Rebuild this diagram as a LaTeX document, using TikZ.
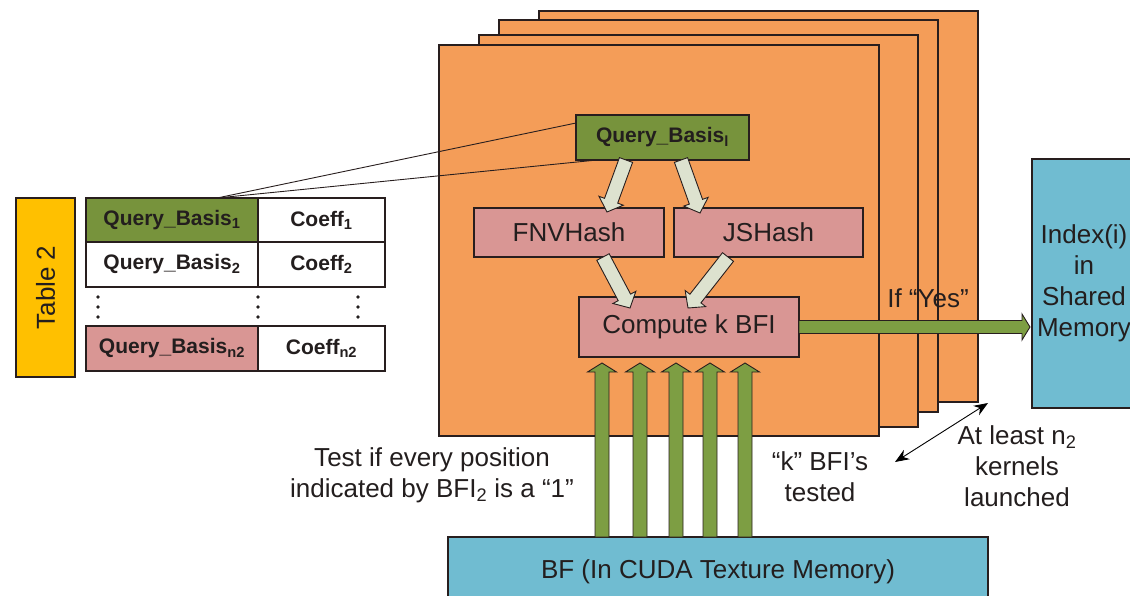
\documentclass[tikz,border=0pt]{standalone}
\usepackage{fontspec}
\setmainfont{Liberation Sans}
\usetikzlibrary{calc,arrows.meta}

\definecolor{kernelorange}{RGB}{244,157,88}
\definecolor{basisgreen}{RGB}{119,147,60}
\definecolor{hashpink}{RGB}{217,150,148}
\definecolor{memblue}{RGB}{112,188,209}
\definecolor{tableyellow}{RGB}{255,192,0}
\definecolor{flowgreen}{RGB}{125,158,67}
\definecolor{palearrow}{RGB}{221,226,207}
\definecolor{edge}{RGB}{40,30,30}
\definecolor{ink}{RGB}{35,30,30}

% block arrow: style, start, end, half shaft width, half head width, head length
\newcommand\blockarrow[6]{%
  \coordinate (ba-h) at ($(#3)!#6!(#2)$);
  \draw[#1] ($(#2)!#4!90:(#3)$) -- ($(ba-h)!#4!90:(#3)$) -- ($(ba-h)!#5!90:(#3)$)
    -- (#3) -- ($(ba-h)!#5!-90:(#3)$) -- ($(ba-h)!#4!-90:(#3)$) -- ($(#2)!#4!-90:(#3)$) -- cycle;
}

\begin{document}
\begin{tikzpicture}[x=1pt,y=-1pt,
  box/.style={draw=edge, line width=1.1pt, inner sep=0pt, outer sep=0pt, anchor=north west,
    text=ink, font=\fontsize{26}{31}\selectfont, align=center},
  kernel/.style={box, fill=kernelorange},
  cell/.style={box, fill=white, font=\bfseries\fontsize{21}{25}\selectfont},
  label/.style={text=ink, font=\fontsize{26}{31}\selectfont, align=center, inner sep=0pt},
  palearr/.style={fill=palearrow, draw=edge, line width=0.9pt, line join=miter},
  greenarr/.style={fill=flowgreen, draw=edge, line width=0.9pt, line join=miter},
  thinline/.style={draw=edge, line width=0.9pt}]
\useasboundingbox (0,0) rectangle (1130,595);

% stacked kernels, back to front
\node[kernel, minimum width=439pt, minimum height=391pt] (k4) at (539,11) {};
\node[kernel, minimum width=439pt, minimum height=392pt] (k3) at (499,20) {};
\node[kernel, minimum width=439pt, minimum height=392pt] (k2) at (479,35) {};
\node[kernel, minimum width=440pt, minimum height=391pt] (k1) at (439,45) {};

% memories
\node[box, fill=memblue, minimum width=118pt, minimum height=249pt] (idx) at (1032,159) {};
\node[label] (idxlbl) at ($(idx.west)+(52,0)$) {Index(i)\\in\\Shared\\Memory};
\node[box, fill=memblue, minimum width=540pt, minimum height=70pt] (bf) at (448,537)
  {BF (In CUDA Texture Memory)};

% table
\node[box, fill=tableyellow, minimum width=59pt, minimum height=179pt] (tab) at (16,198) {};
\node[label, rotate=90] at (tab.center) {Table 2};
\node[cell, fill=basisgreen, minimum width=172pt, minimum height=44pt] (qb1) at (86,198) {Query\_Basis\textsubscript{1}};
\node[cell, minimum width=127pt, minimum height=44pt] (cf1) at (258,198) {Coeff\textsubscript{1}};
\node[cell, minimum width=172pt, minimum height=45pt] (qb2) at (86,242) {Query\_Basis\textsubscript{2}};
\node[cell, minimum width=127pt, minimum height=45pt] (cf2) at (258,242) {Coeff\textsubscript{2}};
\node[cell, fill=hashpink, minimum width=172pt, minimum height=45pt] (qbn) at (86,326) {Query\_Basis\textsubscript{n2}};
\node[cell, minimum width=127pt, minimum height=45pt] (cfn) at (258,326) {Coeff\textsubscript{n2}};
\foreach \cx in {98,258,358}{
  \foreach \cy in {297,307,317}{
    \fill[ink] (\cx,\cy) circle (1.8);
  }
}

% kernel contents
\node[cell, fill=basisgreen, minimum width=173pt, minimum height=45pt] (qbl) at (576,115) {Query\_Basis\textsubscript{l}};
\node[box, fill=hashpink, minimum width=190pt, minimum height=49pt] (fnv) at (474,208) {FNVHash};
\node[box, fill=hashpink, minimum width=189pt, minimum height=49pt] (jsh) at (674,208) {JSHash};
\node[box, fill=hashpink, minimum width=220pt, minimum height=60pt] (cbfi) at (579,297) {Compute k BFI};

% table row feeding the kernel
\coordinate (qb1top) at ($(qb1.north west)+(131,0)$);
\draw[thinline] (qb1top) -- ($(qbl.north west)+(0,8)$);
\draw[thinline] (qb1top) -- ($(qbl.south west)+(21,0)$);

% hashing arrows
\coordinate (qa1s) at ($(qbl.south west)+(50,0)$);
\coordinate (qa1e) at ($(fnv.north west)+(133,4)$);
\coordinate (qa2s) at ($(qbl.south west)+(105,0)$);
\coordinate (qa2e) at ($(jsh.north west)+(26,5)$);
\coordinate (ha1s) at ($(fnv.south west)+(129,0)$);
\coordinate (ha1e) at ($(cbfi.north west)+(51,11)$);
\coordinate (ha2s) at ($(jsh.south west)+(54,0)$);
\coordinate (ha2e) at ($(cbfi.north west)+(109,11)$);
\blockarrow{palearr}{qa1s}{qa1e}{7pt}{13pt}{12pt}
\blockarrow{palearr}{qa2s}{qa2e}{7pt}{13pt}{12pt}
\blockarrow{palearr}{ha1s}{ha1e}{7pt}{13pt}{12pt}
\blockarrow{palearr}{ha2s}{ha2e}{7pt}{13pt}{12pt}

% bit positions read from the filter
\foreach \ax/\bx in {154/23, 192/61, 228/97, 262/131, 297/166}{
  \coordinate (bs) at ($(bf.north west)+(\ax,0)$);
  \coordinate (be) at ($(cbfi.south west)+(\bx,6)$);
  \blockarrow{greenarr}{bs}{be}{7pt}{14.5pt}{9pt}
}

% result written to shared memory
\coordinate (yes-e) at ($(idx.west |- cbfi.east)+(-2,0)$);
\blockarrow{greenarr}{cbfi.east}{yes-e}{6.5pt}{13pt}{8pt}

% kernel count marker
\coordinate (kn-a) at ($(k4.south east)+(10,1)$);
\coordinate (kn-b) at ($(k1.south east)+(16,26)$);
\draw[line width=0.9pt, {Stealth[length=14pt,width=11pt]}-{Stealth[length=14pt,width=11pt]}] (kn-b) -- (kn-a);

% labels
\node[label] (yes) at (928,298) {If “Yes”};
\node[label] (testlbl) at (432,475) {Test if every position\\indicated by BFI\textsubscript{2} is a “1”};
\node[label] (klbl) at (820,477) {“k” BFI’s\\tested};
\node[label] (nlbl) at (1017,466) {At least n\textsubscript{2}\\kernels\\launched};
\end{tikzpicture}
\end{document}
